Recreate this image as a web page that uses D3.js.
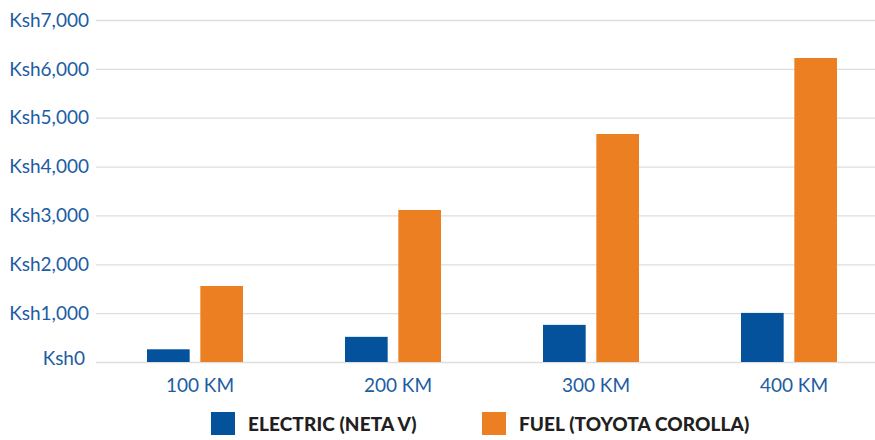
<!DOCTYPE html>
<html>
<head>
<meta charset="utf-8">
<script src="https://cdn.jsdelivr.net/npm/d3@7"></script>
<style>
  body { margin: 0; background: #fff; }
  svg { display: block; font-family: Lato, "Open Sans", sans-serif; }
</style>
</head>
<body>
<div id="chart"></div>
<script>
const WIDTH = 875;
const HEIGHT = 440;

const distances = ["100 KM", "200 KM", "300 KM", "400 KM"];
const seriesNames = ["ELECTRIC (NETA V)", "FUEL (TOYOTA COROLLA)"];
const electricCost = [260, 515, 760, 1005];
const fuelCost = [1556, 3111, 4667, 6222];
const yTicks = [0, 1000, 2000, 3000, 4000, 5000, 6000, 7000];

const colors = ["#04519c", "#ed7f23"];
const textBlue = "#1d5ca3";

let margin = {top: 20, right: 0, bottom: 78, left: 96};
let plotH = HEIGHT - margin.top - margin.bottom;

let svg = d3.select("#chart").append("svg")
    .attr("width", WIDTH)
    .attr("height", HEIGHT);

// scales
let x0 = d3.scaleBand().domain(distances).range([margin.left, margin.left + 198 * 4]).padding(0);
let x1 = d3.scaleBand().domain(seriesNames).range([51, 147]).paddingInner(0.2);
let y = d3.scaleLinear().domain([0, 7000]).range([margin.top + plotH, margin.top]);

// grid
svg.append("g").selectAll("line")
    .data(yTicks)
  .enter().append("line")
    .attr("x1", margin.left)
    .attr("x2", WIDTH)
    .attr("y1", d => y(d) + 0.5)
    .attr("y2", d => y(d) + 0.5)
    .attr("stroke", "#dedede")
    .attr("stroke-width", 1.3);

// y labels
let fmt = d3.format(",");
svg.append("g").selectAll("text")
    .data(yTicks)
  .enter().append("text")
    .attr("x", d => d === 0 ? 85 : 89)
    .attr("y", d => d === 0 ? y(d) - 4 : y(d))
    .attr("dy", "0.35em")
    .attr("text-anchor", "end")
    .attr("fill", textBlue)
    .style("font-size", "19px")
    .text(d => "Ksh" + fmt(d));

// bars
let rows = distances.map((d, i) => ({key: d, values: [electricCost[i], fuelCost[i]]}));
let groups = svg.append("g").selectAll("g")
    .data(rows)
  .enter().append("g")
    .attr("transform", d => "translate(" + x0(d.key) + ",0)");
groups.selectAll("rect")
    .data(d => d.values.map((v, j) => ({name: seriesNames[j], value: v, idx: j})))
  .enter().append("rect")
    .attr("x", d => x1(d.name))
    .attr("width", x1.bandwidth())
    .attr("y", d => y(d.value))
    .attr("height", d => y(0) - y(d.value))
    .attr("fill", d => colors[d.idx]);

// x labels
svg.append("g").selectAll("text")
    .data(distances)
  .enter().append("text")
    .attr("x", d => x0(d) + x0.bandwidth() / 2 + 5)
    .attr("y", 385)
    .attr("dy", "0.35em")
    .attr("text-anchor", "middle")
    .attr("fill", textBlue)
    .style("font-size", "19px")
    .text(d => d);

// legend
let legendX = [211, 482];
let legend = svg.append("g").selectAll("g")
    .data(seriesNames)
  .enter().append("g")
    .attr("transform", (d, i) => "translate(" + legendX[i] + ",412)");
legend.append("rect")
    .attr("width", 24)
    .attr("height", 23)
    .attr("fill", (d, i) => colors[i]);
legend.append("text")
    .attr("x", 37)
    .attr("y", 12)
    .attr("dy", "0.35em")
    .attr("fill", "#231f20")
    .style("font-size", "19px")
    .style("font-weight", "900")
    .style("letter-spacing", "0.1px")
    .text(d => d);
</script>
</body>
</html>
